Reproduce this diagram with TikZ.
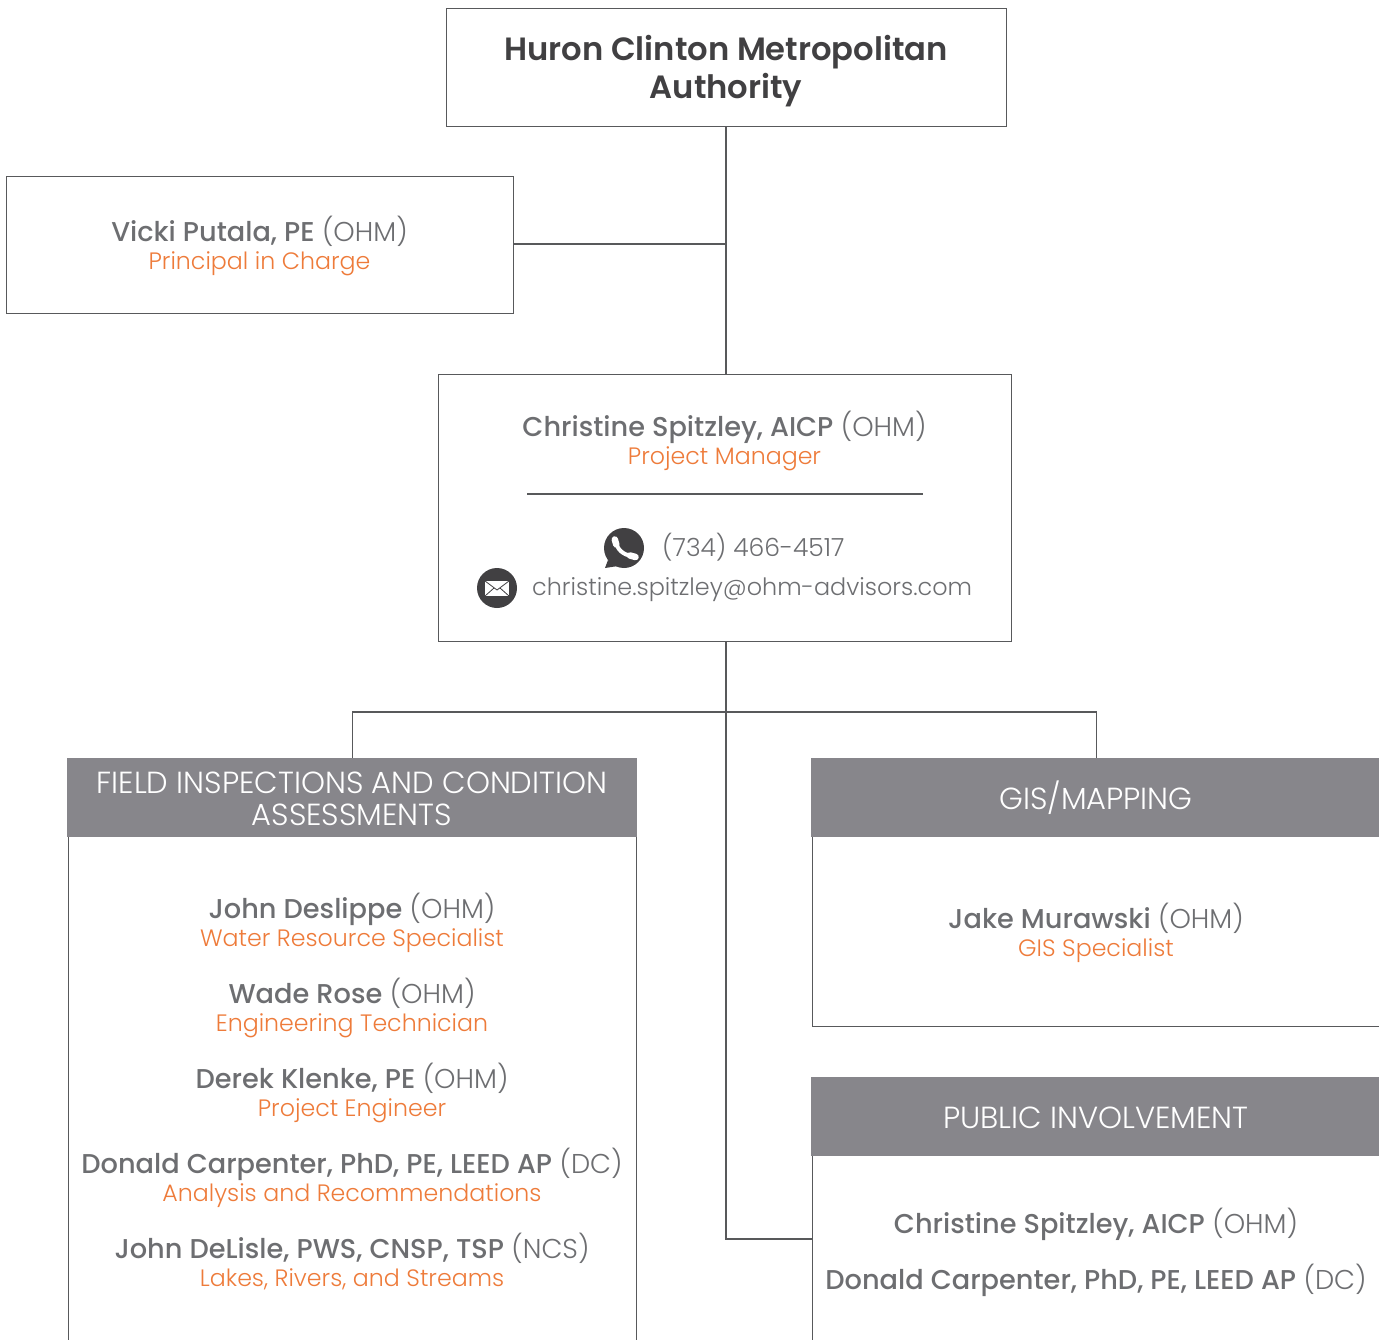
\documentclass[tikz,border=0pt]{standalone}
\usepackage{fontspec}
\setmainfont{Poppins Light}[BoldFont={Poppins Medium}]
\newfontfamily\semib{Poppins SemiBold}
\definecolor{txtgray}{HTML}{6D6E71}
\definecolor{hdr}{HTML}{87868B}
\definecolor{lin}{HTML}{58595B}
\definecolor{org}{HTML}{EE7B3A}
\definecolor{ico}{HTML}{414042}
\newcommand{\nm}[2]{{\fontsize{27.2}{30}\selectfont\textbf{#1} #2}}
\newcommand{\ttl}[1]{\textcolor{org}{\fontsize{23.7}{30}\selectfont #1}}
\tikzset{x=1pt,y=-1pt,
 box/.style={draw=lin,line width=1.1pt,fill=white,inner sep=0pt,anchor=north west},
 head/.style={fill=hdr,inner sep=0pt,anchor=north west,minimum width=570pt,minimum height=79pt},
 headtext/.style={text=white,inner sep=0pt,align=center,font=\fontsize{30.5}{32}\selectfont},
 person/.style={text=txtgray,inner sep=0pt,align=center,font=\fontsize{25}{30}\selectfont},
 conn/.style={draw=lin,line width=1.1pt}}
\begin{document}
\begin{tikzpicture}
\useasboundingbox (0,0) rectangle (1379,1340);
\clip (0,0) rectangle (1379,1340);
\coordinate (j1) at (726,244);
\coordinate (j2) at (726,712);
\coordinate (j3) at (726,1239);
% boxes
\node[box,minimum width=560.5pt,minimum height=118.4pt] (hcma) at (445.5,7.6) {};
\node[font=\fontsize{32.2}{38}\selectfont\semib,text=ico,align=center,inner sep=0pt] (hcmat) at (726,71.5) {Huron Clinton Metropolitan\\Authority};
\node[box,minimum width=507pt,minimum height=137.4pt] (vicki) at (6,175.6) {};
\node[person] (vickit) at (259.5,246) {\nm{Vicki Putala, PE}{(OHM)}\\[-2pt]\ttl{Principal in Charge}};
\node[box,minimum width=573pt,minimum height=267.4pt] (pm) at (438,373.6) {};
\node[person] (pmt) at (724.5,441) {\nm{Christine Spitzley, AICP}{(OHM)}\\[-2pt]\ttl{Project Manager}};
\coordinate (ruleL) at (527,494);
\coordinate (ruleR) at (923,494);
\draw[conn] (ruleL) -- (ruleR);
\node[person,anchor=west] (phone) at (662,547) {(734) 466-4517};
\node[person,anchor=west,font=\fontsize{23.9}{30}\selectfont] (mail) at (532,589.5) {christine.spitzley@ohm-advisors.com};
% phone icon
\fill[ico] (624,548) circle (20);
\fill[ico] (608,560) -- (605,568) -- (618,566) -- cycle;
\draw[white,line width=4pt] (616,542) .. controls (617,549) and (623,555) .. (632,556);
\draw[white,line width=6.5pt,line cap=round] (614.8,539.5) -- (616.3,544.5);
\draw[white,line width=6.5pt,line cap=round] (630,555.5) -- (635.5,557);
% mail icon
\fill[ico] (497,588) circle (20);
\fill[white] (485,581) rectangle (509,596);
\draw[ico,line width=.8pt] (485,581) -- (497,590) -- (509,581) (485,596) -- (494,588) (509,596) -- (500,588);
% field box
\node[box,minimum width=568pt,minimum height=540pt] (fbody) at (68,836) {};
\node[head] (fhead) at (67,758) {};
\node[headtext] (fheadt) at (352,799) {FIELD INSPECTIONS AND CONDITION\\ASSESSMENTS};
\node[person] (p1) at (352,923) {\nm{John Deslippe}{(OHM)}\\[-2pt]\ttl{Water Resource Specialist}};
\node[person] (p2) at (352,1008) {\nm{Wade Rose}{(OHM)}\\[-2pt]\ttl{Engineering Technician}};
\node[person] (p3) at (352,1093) {\nm{Derek Klenke, PE}{(OHM)}\\[-2pt]\ttl{Project Engineer}};
\node[person] (p4) at (352,1178) {\nm{Donald Carpenter, PhD, PE, LEED AP}{(DC)}\\[-2pt]\ttl{Analysis and Recommendations}};
\node[person] (p5) at (352,1262) {\nm{John DeLisle, PWS, CNSP, TSP}{(NCS)}\\[-2pt]\ttl{Lakes, Rivers, and Streams}};
% GIS
\node[box,minimum width=590pt,minimum height=190pt] (gbody) at (812,836) {};
\node[head] (ghead) at (811,758) {};
\node[headtext] (gheadt) at (1096,798) {GIS/MAPPING};
\node[person] (p6) at (1096,933) {\nm{Jake Murawski}{(OHM)}\\[-2pt]\ttl{GIS Specialist}};
% public
\node[box,minimum width=590pt,minimum height=220pt] (pbody) at (812,1155) {};
\node[head] (phead) at (811,1077) {};
\node[headtext] (pheadt) at (1096,1118) {PUBLIC INVOLVEMENT};
\node[person] (p7) at (1096,1224) {\nm{Christine Spitzley, AICP}{(OHM)}};
\node[person] (p8) at (1096,1280) {\nm{Donald Carpenter, PhD, PE, LEED AP}{(DC)}};
% connectors
\draw[conn] (hcma.south -| j1) -- (pm.north -| j1);
\draw[conn] (vicki.east |- j1) -- (j1);
\draw[conn] (pm.south -| j1) -- (j3) -- (j3 -| pbody.west);
\draw[conn] (fhead.north) -- (fhead.north |- j2) -- (ghead.north |- j2) -- (ghead.north);
\end{tikzpicture}
\end{document}
